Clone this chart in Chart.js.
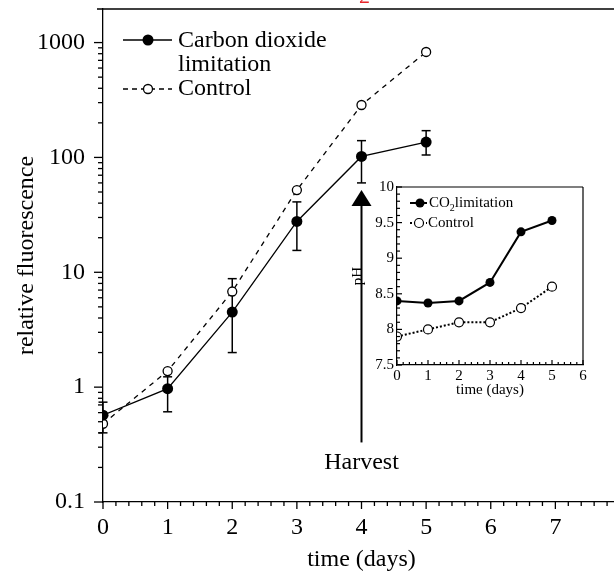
<!DOCTYPE html>
<html>
<head>
<meta charset="utf-8">
<script src="https://cdn.jsdelivr.net/npm/chart.js@4.4.0/dist/chart.umd.min.js"></script>
<style>
  html, body { margin: 0; padding: 0; background: #fff; }
  body { width: 614px; height: 575px; overflow: hidden; position: relative; }
  #main { position: absolute; left: 0; top: 0; }
  #inset { position: absolute; left: 345px; top: 180px; }
</style>
</head>
<body>
<canvas id="main" width="640" height="575"></canvas>
<canvas id="inset" width="250" height="220"></canvas>
<script>
// main panel: relative fluorescence (log) vs time
const days = [0, 1, 2, 3, 4, 5];
const co2Fluor = [0.57, 0.97, 4.5, 27.7, 102, 136];
const co2FluorHigh = [0.74, 1.23, 8.8, 41, 140, 171];
const co2FluorLow = [0.40, 0.61, 2.0, 15.5, 60, 105];
const controlFluor = [0.48, 1.38, 6.8, 52, 286, 828];
const fluorTicks = [0.1, 1, 10, 100, 1000];

// inset: pH vs time
const phDays = [0, 1, 2, 3, 4, 5];
const co2PH = [8.40, 8.37, 8.40, 8.66, 9.37, 9.53];
const controlPH = [7.90, 8.00, 8.10, 8.10, 8.30, 8.60];

// harvest arrow (day, tip value, tail value, label value)
const harvestDay = 4;
const harvestTip = 52;
const harvestTail = 0.33;
const harvestLabelAt = 0.22;

const SERIF = "'Liberation Serif', 'Times New Roman', serif";
Chart.defaults.font.family = SERIF;
Chart.defaults.color = "#000";

function pts(xs, ys) {
    return xs.map((x, i) => ({ x: x, y: ys[i] }));
}

function line(ctx, x1, y1, x2, y2) {
    ctx.beginPath();
    ctx.moveTo(x1, y1);
    ctx.lineTo(x2, y2);
    ctx.stroke();
}

// keep the plot area where the reference has it, not where label overhang pushes it
function noOverhang(s) {
    s.paddingTop = 0;
    s.paddingBottom = 0;
    s.paddingLeft = 0;
    s.paddingRight = 0;
}

const errorBars = {
    id: "errorBars",
    beforeDatasetsDraw(chart) {
        const { ctx, scales: { x, y } } = chart;
        ctx.save();
        ctx.strokeStyle = "#000";
        ctx.lineWidth = 1.5;
        days.forEach((d, i) => {
            const px = x.getPixelForValue(d);
            const top = y.getPixelForValue(co2FluorHigh[i]);
            const bot = y.getPixelForValue(co2FluorLow[i]);
            line(ctx, px, top, px, bot);
            line(ctx, px - 4.5, top, px + 4.5, top);
            line(ctx, px - 4.5, bot, px + 4.5, bot);
        });
        ctx.restore();
    }
};

const mainDecor = {
    id: "mainDecor",
    afterDraw(chart) {
        const { ctx, chartArea: a, scales: { x, y } } = chart;
        ctx.save();
        ctx.strokeStyle = "#000";
        ctx.fillStyle = "#000";
        ctx.lineWidth = 1.3;

        // top frame line
        line(ctx, a.left - 6, a.top, chart.width, a.top);

        // log ticks, outward
        for (let e = -1; e <= 3; e++) {
            for (let k = 1; k <= 9; k++) {
                const v = k * Math.pow(10, e);
                if (v > y.max) break;
                const py = y.getPixelForValue(v);
                line(ctx, a.left - (k === 1 ? 9 : 5), py, a.left, py);
            }
        }
        // time ticks every 0.2 day
        for (let i = 0; i <= 40; i++) {
            const px = x.getPixelForValue(i * 0.2);
            line(ctx, px, a.bottom, px, a.bottom + (i % 5 === 0 ? 7 : 4));
        }

        // harvest arrow
        const hx = x.getPixelForValue(harvestDay);
        const tipY = y.getPixelForValue(harvestTip);
        const tailY = y.getPixelForValue(harvestTail);
        ctx.lineWidth = 2;
        line(ctx, hx, tailY, hx, tipY + 14);
        ctx.beginPath();
        ctx.moveTo(hx, tipY);
        ctx.lineTo(hx - 10, tipY + 16);
        ctx.lineTo(hx + 10, tipY + 16);
        ctx.closePath();
        ctx.fill();
        ctx.font = "24px " + SERIF;
        ctx.textAlign = "center";
        ctx.textBaseline = "middle";
        ctx.fillText("Harvest", hx, y.getPixelForValue(harvestLabelAt));

        // legend
        ctx.lineWidth = 1.3;
        ctx.textAlign = "left";
        line(ctx, 123, 40, 172, 40);
        ctx.beginPath();
        ctx.arc(148, 40, 5.5, 0, Math.PI * 2);
        ctx.fill();
        ctx.fillText("Carbon dioxide", 178, 41);
        ctx.fillText("limitation", 178, 65);
        ctx.setLineDash([5, 4]);
        line(ctx, 123, 89, 172, 89);
        ctx.setLineDash([]);
        ctx.beginPath();
        ctx.arc(148, 89, 4.5, 0, Math.PI * 2);
        ctx.fillStyle = "#fff";
        ctx.fill();
        ctx.stroke();
        ctx.fillStyle = "#000";
        ctx.fillText("Control", 178, 89);

        // clipped red subscript from the caption above
        ctx.fillStyle = "#e8262b";
        ctx.font = "22px " + SERIF;
        ctx.textBaseline = "alphabetic";
        ctx.fillText("2", 359, 3);
        ctx.restore();
    }
};

new Chart(document.getElementById("main"), {
    type: "line",
    data: {
        datasets: [
            {
                label: "Carbon dioxide limitation",
                data: pts(days, co2Fluor),
                borderColor: "#000",
                borderWidth: 1.3,
                backgroundColor: "#000",
                pointRadius: 5.5,
                pointBorderWidth: 0,
                tension: 0
            },
            {
                label: "Control",
                data: pts(days, controlFluor),
                borderColor: "#000",
                borderWidth: 1.3,
                borderDash: [5, 5],
                backgroundColor: "#fff",
                pointBackgroundColor: "#fff",
                pointBorderColor: "#000",
                pointBorderWidth: 1.3,
                pointRadius: 4.5,
                tension: 0
            }
        ]
    },
    options: {
        responsive: false,
        animation: false,
        events: [],
        layout: { padding: { left: 0, right: 20, top: 9, bottom: 0 } },
        plugins: { legend: { display: false }, tooltip: { enabled: false } },
        scales: {
            x: {
                type: "linear",
                min: 0,
                max: 8,
                grid: { display: false, drawTicks: false },
                border: { display: true, color: "#000", width: 1.3 },
                ticks: { stepSize: 1, padding: 11, font: { size: 24 }, maxRotation: 0 },
                title: { display: true, text: "time (days)", font: { size: 24 }, padding: { top: 0, bottom: 1 } },
                afterFit: s => { s.height = 73; noOverhang(s); }
            },
            y: {
                type: "logarithmic",
                min: 0.1,
                max: 1960,
                grid: { display: false, drawTicks: false },
                border: { display: true, color: "#000", width: 1.3 },
                afterBuildTicks: s => { s.ticks = fluorTicks.map(v => ({ value: v })); },
                ticks: {
                    padding: 18,
                    font: { size: 24 },
                    callback: v => String(v)
                },
                title: { display: true, text: "relative fluorescence", font: { size: 24 }, padding: { top: 12, bottom: 0 } },
                afterFit: s => { s.width = 103; noOverhang(s); }
            }
        }
    },
    plugins: [errorBars, mainDecor]
});

const insetDecor = {
    id: "insetDecor",
    afterDraw(chart) {
        const { ctx, chartArea: a, scales: { x, y } } = chart;
        ctx.save();
        ctx.strokeStyle = "#000";
        ctx.fillStyle = "#000";
        ctx.lineWidth = 1.2;
        line(ctx, a.left, a.top, a.right, a.top);
        line(ctx, a.right, a.top, a.right, a.bottom);
        // inward ticks
        for (let i = 0; i <= 25; i++) {
            const py = y.getPixelForValue(7.5 + i * 0.1);
            line(ctx, a.left, py, a.left + (i % 5 === 0 ? 5 : 3), py);
        }
        for (let i = 0; i <= 30; i++) {
            const px = x.getPixelForValue(i * 0.2);
            line(ctx, px, a.bottom, px, a.bottom - (i % 5 === 0 ? 5 : 3));
        }
        // legend
        ctx.lineWidth = 2;
        line(ctx, 65, 23, 82, 23);
        ctx.beginPath();
        ctx.arc(75, 23, 4.5, 0, Math.PI * 2);
        ctx.fill();
        ctx.font = "15px " + SERIF;
        ctx.textBaseline = "middle";
        ctx.textAlign = "left";
        ctx.fillText("CO", 84, 23);
        let w = ctx.measureText("CO").width;
        ctx.font = "10px " + SERIF;
        ctx.fillText("2", 84 + w, 28);
        const w2 = ctx.measureText("2").width;
        ctx.font = "15px " + SERIF;
        ctx.fillText("limitation", 84 + w + w2, 23);
        ctx.setLineDash([2, 2]);
        line(ctx, 65, 43, 82, 43);
        ctx.setLineDash([]);
        ctx.lineWidth = 1.2;
        ctx.beginPath();
        ctx.arc(74, 43, 4.5, 0, Math.PI * 2);
        ctx.fillStyle = "#fff";
        ctx.fill();
        ctx.stroke();
        ctx.fillStyle = "#000";
        ctx.fillText("Control", 83, 43);
        ctx.restore();
    }
};

new Chart(document.getElementById("inset"), {
    type: "line",
    data: {
        datasets: [
            {
                label: "CO2 limitation",
                data: pts(phDays, co2PH),
                borderColor: "#000",
                borderWidth: 2,
                backgroundColor: "#000",
                pointRadius: 4.5,
                pointBorderWidth: 0,
                tension: 0
            },
            {
                label: "Control",
                data: pts(phDays, controlPH),
                borderColor: "#000",
                borderWidth: 2,
                borderDash: [2, 2],
                pointBackgroundColor: "#fff",
                pointBorderColor: "#000",
                pointBorderWidth: 1.2,
                pointRadius: 4.5,
                tension: 0
            }
        ]
    },
    options: {
        responsive: false,
        animation: false,
        events: [],
        layout: { padding: { left: 0, right: 12, top: 7, bottom: 0 } },
        plugins: { legend: { display: false }, tooltip: { enabled: false } },
        scales: {
            x: {
                type: "linear",
                min: 0,
                max: 6,
                grid: { display: false, drawTicks: false },
                border: { display: true, color: "#000", width: 1.2 },
                ticks: { stepSize: 1, padding: 2, font: { size: 15 }, maxRotation: 0 },
                title: { display: true, text: "time (days)", font: { size: 15 }, padding: { top: 0, bottom: 1 } },
                afterFit: s => { s.height = 35; noOverhang(s); }
            },
            y: {
                min: 7.5,
                max: 10,
                grid: { display: false, drawTicks: false },
                border: { display: true, color: "#000", width: 1.2 },
                ticks: { stepSize: 0.5, padding: 3, font: { size: 15 }, callback: v => String(Math.round(v * 10) / 10) },
                title: { display: true, text: "pH", font: { size: 15 }, padding: { top: 4, bottom: 0 } },
                afterFit: s => { s.width = 52; noOverhang(s); }
            }
        }
    },
    plugins: [insetDecor]
});
</script>
</body>
</html>
